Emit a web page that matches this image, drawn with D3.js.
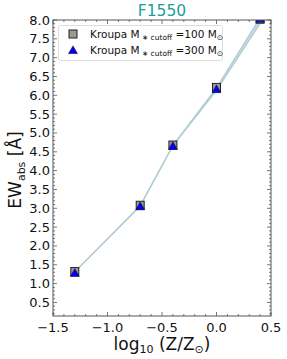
<!DOCTYPE html>
<html><head><meta charset="utf-8">
<script src="https://cdn.jsdelivr.net/npm/d3@7"></script>
<style>body{margin:0;background:#fff}svg{display:block}text{font-family:"DejaVu Sans",sans-serif}</style>
</head><body><svg id="c" width="287" height="359"></svg>
<script>
const logZ = [-1.3, -0.7, -0.4, 0.0, 0.4];
const ew100 = [1.32, 3.08, 4.68, 6.21, 8.02];
const ew300 = [1.28, 3.05, 4.65, 6.16, 8.03];
const bandLow = [1.31, 3.06, 4.655, 6.13, 7.90];
const bandHigh = [1.31, 3.07, 4.675, 6.20, 8.06];
const xTicks = [-1.5, -1.0, -0.5, 0.0, 0.5];
const yTicks = [0.5,1.0,1.5,2.0,2.5,3.0,3.5,4.0,4.5,5.0,5.5,6.0,6.5,7.0,7.5,8.0];

const svg = d3.select("#c");
const L=53, R=271, T=20, B=316;
const x = d3.scaleLinear().domain([-1.5,0.5]).range([L,R]);
const y = d3.scaleLinear().domain([0.14,8.0]).range([B,T]);

svg.append("defs").append("clipPath").attr("id","clip")
  .append("rect").attr("x",L).attr("y",T).attr("width",R-L).attr("height",B-T);
const g = svg.append("g").attr("clip-path","url(#clip)");

const band = logZ.map((v,i)=>({x:v,lo:bandLow[i],hi:bandHigh[i]}));
g.append("path").datum(band)
  .attr("d", d3.area().x(d=>x(d.x)).y0(d=>y(d.lo)).y1(d=>y(d.hi)))
  .attr("fill","#c4dbe2");
[bandLow,bandHigh].forEach(arr=>{
  g.append("path").datum(logZ.map((v,i)=>[v,arr[i]]))
   .attr("d", d3.line().x(d=>x(d[0])).y(d=>y(d[1])))
   .attr("fill","none").attr("stroke","#b0cbd4").attr("stroke-width",1.2);
});

// markers
const sq = 8;
g.selectAll(".sq").data(logZ.map((v,i)=>[v,ew100[i]])).enter().append("rect")
  .attr("x",d=>x(d[0])-sq/2).attr("y",d=>y(d[1])-sq/2).attr("width",sq).attr("height",sq)
  .attr("fill","#999").attr("stroke","#222").attr("stroke-width",1);
const tri = d3.symbol().type(d3.symbolTriangle).size(34);
g.selectAll(".tr").data(logZ.map((v,i)=>[v,ew300[i]])).enter().append("path")
  .attr("d",tri).attr("transform",d=>`translate(${x(d[0])},${y(d[1])+0.8})`)
  .attr("fill","#0000ff").attr("stroke","#111").attr("stroke-width",0.6);

// frame
svg.append("rect").attr("x",L).attr("y",T).attr("width",R-L).attr("height",B-T)
  .attr("fill","none").attr("stroke","#555").attr("stroke-width",1);

// ticks
const tc = "#555";
const xMinor = d3.range(-15,6).map(v=>v/10);
const yMinor = d3.range(2,81).map(v=>v/10);
function tick(x1,y1,x2,y2){svg.append("line").attr("x1",x1).attr("y1",y1).attr("x2",x2).attr("y2",y2).attr("stroke",tc).attr("stroke-width",0.8);}
xMinor.forEach(v=>{const px=x(v);const maj=xTicks.some(t=>Math.abs(t-v)<1e-6);const l=maj?4:2;tick(px,B,px,B-l);tick(px,T,px,T+l);});
yMinor.forEach(v=>{const py=y(v);const maj=yTicks.some(t=>Math.abs(t-v)<1e-6);const l=maj?4:2;tick(L,py,L+l,py);tick(R,py,R-l,py);});

const fmt = v=> (v<0?"\u2212":"")+Math.abs(v).toFixed(1);
svg.selectAll(".xt").data(xTicks).enter().append("text")
  .attr("x",d=>x(d)).attr("y",332).attr("text-anchor","middle").attr("font-size",13).attr("fill","#111").text(fmt);
svg.selectAll(".yt").data(yTicks).enter().append("text")
  .attr("x",50).attr("y",d=>y(d)+4.5).attr("text-anchor","end").attr("font-size",13).attr("fill","#111").text(fmt);

// title
svg.append("text").attr("x",162).attr("y",16).attr("text-anchor","middle").attr("font-size",15.5).attr("fill","#1a9e9e").text("F1550");

// x label
const xl = svg.append("text").attr("x",162).attr("y",350).attr("text-anchor","middle").attr("font-size",17).attr("fill","#111");
xl.append("tspan").text("log");
xl.append("tspan").attr("font-size",11).attr("dy",3).text("10");
xl.append("tspan").attr("dy",-3).text(" (Z/Z");
xl.append("tspan").attr("font-size",11).attr("dy",3).text("\u2299");
xl.append("tspan").attr("dy",-3).text(")");

// y label
const yl = svg.append("text").attr("transform","translate(21,170) rotate(-90)").attr("text-anchor","middle").attr("font-size",17).attr("fill","#111");
yl.append("tspan").text("EW");
yl.append("tspan").attr("font-size",11).attr("dy",4).text("abs");
yl.append("tspan").attr("dy",-4).text(" [Å]");

// legend
const lg = svg.append("g");
lg.append("rect").attr("x",58.5).attr("y",25.5).attr("width",164).attr("height",35).attr("fill","#fff").attr("stroke","#ddd").attr("stroke-width",1).attr("rx",2);
lg.append("rect").attr("x",69).attr("y",30).attr("width",8).attr("height",8).attr("fill","#999").attr("stroke","#222");
lg.append("path").attr("d",tri).attr("transform","translate(73,51)").attr("fill","#0000ff").attr("stroke","#111").attr("stroke-width",0.6);
function legText(yy,val){
  const t = lg.append("text").attr("x",90).attr("y",yy).attr("font-size",10.5).attr("fill","#111");
  t.append("tspan").text("Kroupa M");
  t.append("tspan").attr("font-size",7.5).attr("dy",2).text(" \u2217 cutoff");
  t.append("tspan").attr("dy",-2).text(" =" + val + " M");
  t.append("tspan").attr("font-size",7.5).attr("dy",2).text("\u2299");
}
legText(38,"100");
legText(54,"300");
</script></body></html>
